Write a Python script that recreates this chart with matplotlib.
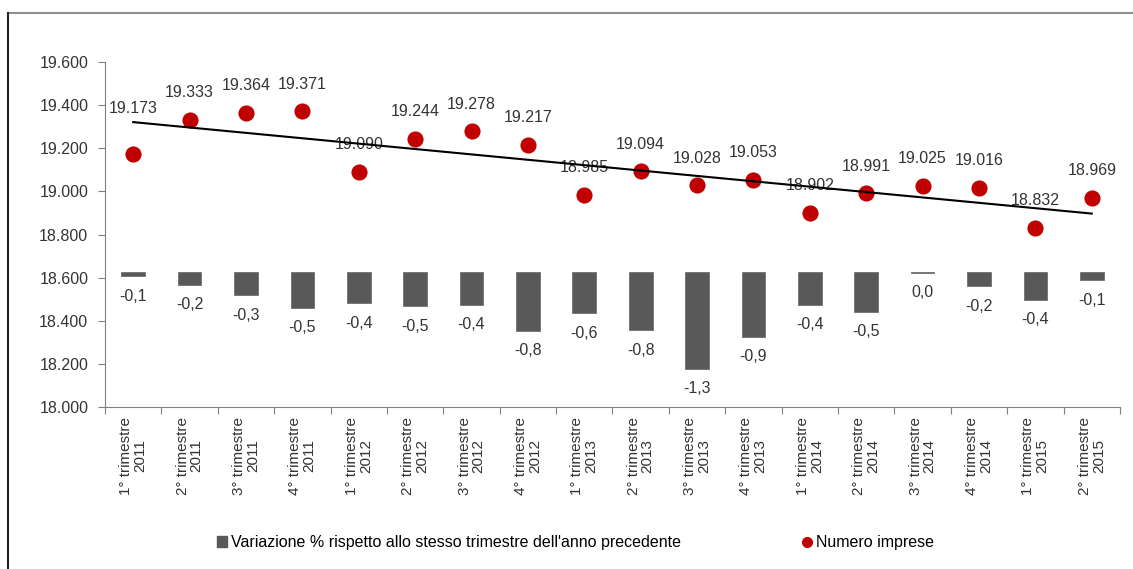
import numpy as np
import matplotlib.pyplot as plt
from matplotlib.patches import Patch
from matplotlib.lines import Line2D

plt.rcParams['font.family'] = ['Liberation Sans', 'DejaVu Sans']

# trimestri
quarters = ["1° trimestre\n2011", "2° trimestre\n2011", "3° trimestre\n2011", "4° trimestre\n2011",
            "1° trimestre\n2012", "2° trimestre\n2012", "3° trimestre\n2012", "4° trimestre\n2012",
            "1° trimestre\n2013", "2° trimestre\n2013", "3° trimestre\n2013", "4° trimestre\n2013",
            "1° trimestre\n2014", "2° trimestre\n2014", "3° trimestre\n2014", "4° trimestre\n2014",
            "1° trimestre\n2015", "2° trimestre\n2015"]

# numero imprese
imprese = [19173, 19333, 19364, 19371, 19090, 19244, 19278, 19217, 18985,
           19094, 19028, 19053, 18902, 18991, 19025, 19016, 18832, 18969]

# variazione % rispetto allo stesso trimestre dell'anno precedente
variazione = [-0.06, -0.17, -0.31, -0.48, -0.42, -0.46, -0.44, -0.79, -0.55,
              -0.78, -1.30, -0.87, -0.44, -0.53, -0.01, -0.19, -0.37, -0.11]
variazione_lbl = ["-0,1", "-0,2", "-0,3", "-0,5", "-0,4", "-0,5", "-0,4", "-0,8", "-0,6",
                  "-0,8", "-1,3", "-0,9", "-0,4", "-0,5", "0,0", "-0,2", "-0,4", "-0,1"]


def fmt_it(v):
    return "{:,}".format(v).replace(",", ".")


fig = plt.figure(figsize=(11.33, 5.69), dpi=100)
ax = fig.add_axes([0.0927, 0.2847, 0.8958, 0.6063])
ax2 = ax.twinx()

x = np.arange(len(quarters))

# bars on hidden secondary axis
bars = ax2.bar(x, variazione, width=0.42, color='#595959', edgecolor='#707070', linewidth=0.6)
for i, b in enumerate(bars):
    ax2.annotate(variazione_lbl[i], (x[i], variazione[i]), xytext=(0, -9),
                 textcoords='offset points', ha='center', va='top', fontsize=11.5, color='#333333')
ax2.set_ylim(-1.81, 2.815)
ax2.axis('off')

ax.set_zorder(ax2.get_zorder() + 1)
ax.patch.set_visible(False)

ax.scatter(x, imprese, s=135, color='#C00000', zorder=3, linewidths=0)
for i, v in enumerate(imprese):
    off = 33 if i == 0 else 19.5
    ax.annotate(fmt_it(v), (x[i], v), xytext=(0, off), textcoords='offset points',
                ha='center', va='center', fontsize=11.5, color='#333333', zorder=2)

# linear trend
k, q = np.polyfit(x, imprese, 1)
ax.plot(x, k * x + q, color='black', lw=1.5, zorder=5)

ax.set_ylim(18000, 19600)
ax.set_yticks(np.arange(18000, 19601, 200))
ax.set_yticklabels([fmt_it(t) for t in range(18000, 19601, 200)], fontsize=11.5, color='#333333')
ax.set_xlim(-0.5, len(quarters) - 0.5)
ax.set_xticks(np.arange(-0.5, len(quarters), 1.0))
ax.set_xticklabels([])
ax.set_xticks(x, minor=True)
ax.set_xticklabels(quarters, minor=True, rotation=90, fontsize=11, color='#333333',
                   linespacing=1.0)
ax.tick_params(axis='x', which='minor', length=0, pad=7)
ax.tick_params(axis='x', which='major', length=5, color='#808080')
ax.tick_params(axis='y', length=5, color='#808080', pad=7)
for s in ['top', 'right']:
    ax.spines[s].set_visible(False)
for s in ['left', 'bottom']:
    ax.spines[s].set_color('#808080')

handles = [Patch(facecolor='#595959', edgecolor='#595959'),
           Line2D([], [], marker='o', ls='none', color='#C00000', markersize=7)]
fig.legend(handles, ["Variazione % rispetto allo stesso trimestre dell'anno precedente", "Numero imprese"],
           loc='center', bbox_to_anchor=(0.508, 0.046), ncol=2, frameon=False, fontsize=11.5,
           handlelength=0.6, handletextpad=0.25, columnspacing=7.6)

# outer frame
fig.add_artist(Line2D([8 / 1133, 1.0], [1 - 13 / 569, 1 - 13 / 569], color='#909090', lw=1.5))
fig.add_artist(Line2D([8 / 1133, 8 / 1133], [0, 1 - 13 / 569], color='#222222', lw=1.5))

fig.savefig('out.png', dpi=100)
